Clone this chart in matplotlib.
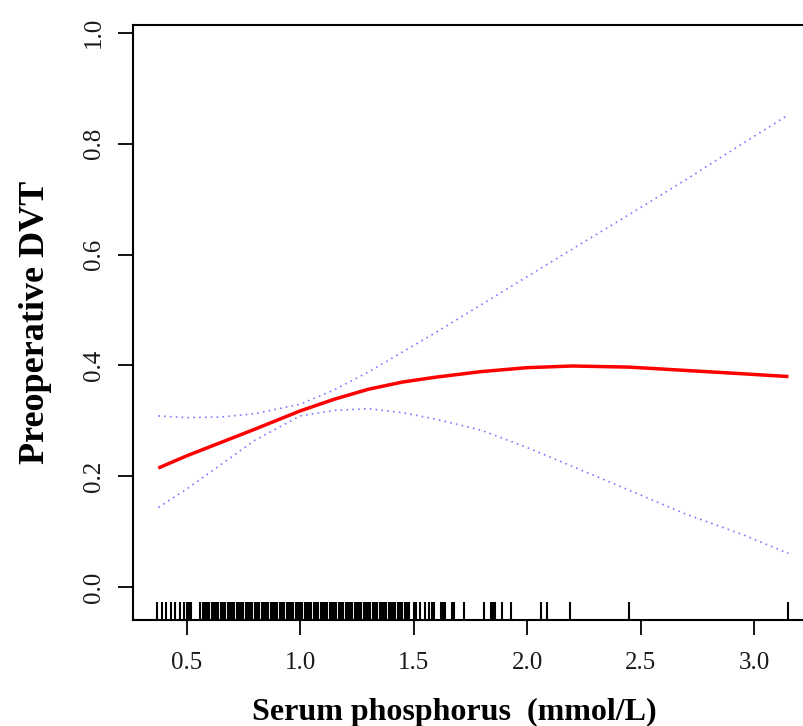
import numpy as np
import matplotlib
matplotlib.use("Agg")
import matplotlib.pyplot as plt

# smooth curve + 95% CI
phos = [0.375, 0.5, 0.65, 0.8, 1.0, 1.15, 1.3, 1.45, 1.6, 1.8, 2.0, 2.2, 2.45, 2.7, 2.95, 3.152]
fit = [0.215, 0.237, 0.261, 0.285, 0.318, 0.339, 0.357, 0.370, 0.379, 0.389, 0.396, 0.399, 0.397, 0.391, 0.385, 0.380]
upper = [0.309, 0.306, 0.307, 0.313, 0.330, 0.356, 0.388, 0.424, 0.460, 0.510, 0.560, 0.610, 0.672, 0.735, 0.800, 0.852]
lower = [0.144, 0.177, 0.221, 0.265, 0.309, 0.319, 0.322, 0.315, 0.303, 0.283, 0.252, 0.218, 0.175, 0.132, 0.095, 0.061]

# observed serum phosphorus values (rug)
rug = [0.37, 0.39, 0.41, 0.43, 0.45, 0.47, 0.49, 0.50, 0.51, 0.52,
       0.56, 0.57, 0.58, 0.59, 0.60, 0.61, 0.62, 0.63, 0.64, 0.65,
       0.66, 0.67, 0.68, 0.69, 0.70, 0.71, 0.72, 0.73, 0.74, 0.75,
       0.76, 0.77, 0.78, 0.79, 0.80, 0.81, 0.82, 0.83, 0.84, 0.85,
       0.86, 0.87, 0.88, 0.89, 0.90, 0.91, 0.92, 0.93, 0.94, 0.95,
       0.96, 0.97, 0.98, 0.99, 1.00, 1.01, 1.02, 1.03, 1.04, 1.05,
       1.06, 1.07, 1.08, 1.09, 1.10, 1.11, 1.12, 1.13, 1.14, 1.15,
       1.16, 1.17, 1.18, 1.19, 1.20, 1.21, 1.22, 1.23, 1.24, 1.25,
       1.26, 1.27, 1.28, 1.29, 1.30, 1.31, 1.32, 1.33, 1.34, 1.35,
       1.36, 1.37, 1.38, 1.39, 1.40, 1.41, 1.42, 1.43, 1.44, 1.45,
       1.46, 1.47, 1.48, 1.50, 1.51, 1.53, 1.55, 1.57, 1.58, 1.59,
       1.62, 1.63, 1.64, 1.67, 1.68, 1.72, 1.81, 1.84, 1.85, 1.86,
       1.89, 1.93, 2.06, 2.09, 2.19, 2.45, 3.15]

xticks = [0.5, 1.0, 1.5, 2.0, 2.5, 3.0]
yticks = [0.0, 0.2, 0.4, 0.6, 0.8, 1.0]

fig = plt.figure(figsize=(8.04, 7.26), dpi=100)
# right edge of the box sits outside the picture, as in the original
ax = fig.add_axes([0.165, 0.1456, 0.847, 0.820])

ax.plot(phos, upper, color="#7b7bff", lw=1.2, ls=(0, (1, 2.5)))
ax.plot(phos, lower, color="#7b7bff", lw=1.2, ls=(0, (1, 2.5)))
ax.plot(phos, fit, color="red", lw=2.5, solid_capstyle="butt")

# rug along the bottom
ax.vlines(rug, 0, 0.03, transform=ax.get_xaxis_transform(), color="black", lw=1.5)

ax.set_xlim(0.262, 3.263)
ax.set_ylim(-0.0595, 1.0139)

serif = "Liberation Serif"
ax.set_xticks(xticks)
ax.set_xticklabels(["%.1f" % v for v in xticks], fontfamily=serif, fontsize=18)
ax.set_yticks(yticks)
ax.set_yticklabels(["%.1f" % v for v in yticks], fontfamily=serif, fontsize=18,
                   rotation=90, va="center")
ax.tick_params(axis="both", length=11, width=1.3, color="black", labelcolor="#1a1a1a")
ax.tick_params(axis="x", pad=12)
ax.tick_params(axis="y", pad=9)

for side in ["top", "left", "bottom", "right"]:
    ax.spines[side].set_linewidth(1.5)

ax.set_xlabel("Serum phosphorus  (mmol/L)", fontfamily=serif, fontsize=23,
              fontweight="bold")
ax.xaxis.set_label_coords(0.472, -0.13)
ax.set_ylabel("Preoperative DVT", fontfamily=serif, fontsize=26,
              fontweight="bold", labelpad=22)

plt.savefig("out.png", dpi=100)
